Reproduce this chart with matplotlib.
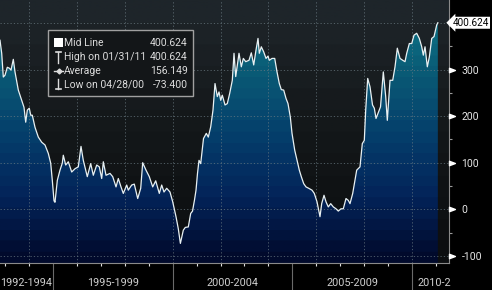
import matplotlib
matplotlib.use("Agg")
import matplotlib.pyplot as plt
import matplotlib.transforms as mtransforms
import numpy as np
from matplotlib.colors import LinearSegmentedColormap
from matplotlib.patches import Rectangle
from matplotlib.path import Path

# series: decimal year, mid value
years = [
    1992.785, 1992.856, 1992.923, 1992.994, 1993.090, 1993.174, 1993.245, 1993.341,
    1993.412, 1993.550, 1993.692, 1993.788, 1993.859, 1993.926, 1994.009, 1994.068,
    1994.135, 1994.248, 1994.386, 1994.528, 1994.666, 1994.803, 1994.904, 1994.971,
    1995.042, 1995.083, 1995.180, 1995.292, 1995.388, 1995.430, 1995.531, 1995.639,
    1995.781, 1995.919, 1996.057, 1996.170, 1996.266, 1996.433, 1996.575, 1996.684,
    1996.826, 1996.935, 1997.035, 1997.102, 1997.215, 1997.382, 1997.495, 1997.633,
    1997.729, 1997.841, 1997.937, 1998.080, 1998.146, 1998.289, 1998.397, 1998.539,
    1998.665, 1998.748, 1998.886, 1999.024, 1999.166, 1999.292, 1999.442, 1999.542,
    1999.638, 1999.751, 1999.889, 2000.002, 2000.140, 2000.236, 2000.323, 2000.445,
    2000.528, 2000.654, 2000.754, 2000.830, 2000.913, 2000.976, 2001.038, 2001.101,
    2001.172, 2001.289, 2001.406, 2001.490, 2001.590, 2001.686, 2001.770, 2001.866,
    2001.937, 2002.008, 2002.075, 2002.188, 2002.284, 2002.384, 2002.493, 2002.564,
    2002.635, 2002.702, 2002.773, 2002.869, 2002.953, 2003.053, 2003.191, 2003.287,
    2003.387, 2003.483, 2003.567, 2003.621, 2003.705, 2003.805, 2003.901, 2003.985,
    2004.039, 2004.152, 2004.265, 2004.361, 2004.457, 2004.540, 2004.641, 2004.737,
    2004.820, 2004.917, 2004.988, 2005.100, 2005.197, 2005.293, 2005.376, 2005.476,
    2005.572, 2005.685, 2005.823, 2005.919, 2006.032, 2006.157, 2006.228, 2006.325,
    2006.408, 2006.504, 2006.605, 2006.713, 2006.826, 2006.922, 2007.035, 2007.131,
    2007.244, 2007.340, 2007.411, 2007.524, 2007.620, 2007.691, 2007.829, 2007.925,
    2008.009, 2008.067, 2008.151, 2008.247, 2008.352, 2008.427, 2008.498, 2008.581,
    2008.686, 2008.803, 2008.903, 2008.970, 2009.083, 2009.196, 2009.292, 2009.388,
    2009.501, 2009.614, 2009.710, 2009.781, 2009.890, 2009.990, 2010.086, 2010.199,
    2010.308, 2010.408, 2010.475, 2010.546, 2010.642, 2010.726, 2010.826, 2010.922,
    2011.035, 2011.082,
]
values = [
    363, 335, 284, 288, 305, 303, 299, 322,
    295, 256, 234, 219, 187, 213, 217, 202,
    202, 176, 155, 144, 138, 120, 99, 62,
    18, 15, 62, 84, 99, 116, 95, 102,
    80, 87, 91, 135, 105, 70, 98, 73,
    95, 91, 66, 102, 73, 77, 70, 48,
    66, 48, 34, 52, 41, 52, 54, 23,
    45, 100, 84, 70, 48, 61, 34, 52,
    37, 45, 37, 16, -16, -42, -73.4, -45,
    -39, -38, -9, -4, 20, 41, 77, 105,
    98, 152, 163, 155, 177, 213, 270, 242,
    252, 234, 245, 224, 227, 249, 277, 335,
    285, 310, 335, 306, 324, 317, 320, 336,
    310, 342, 367, 335, 349, 338, 324, 329,
    320, 324, 324, 295, 270, 257, 256, 238,
    227, 198, 163, 127, 105, 84, 70, 55,
    48, 45, 41, 34, 16, -16, 12, 30,
    16, 5, 12, 5, 1, -4, 1, 1,
    23, 19, 12, 34, 62, 84, 91, 141,
    148, 213, 281, 263, 224, 217, 195, 206,
    220, 295, 242, 191, 277, 277, 306, 346,
    324, 320, 317, 335, 356, 356, 374, 378,
    367, 349, 331, 349, 306, 327, 367, 371,
    396, 400.624,
]

legend_labels = ["Mid Line", "High on 01/31/11", "Average", "Low on 04/28/00"]
legend_values = [400.624, 400.624, 156.149, -73.400]

period_labels = ["1992-1994", "1995-1999", "2000-2004", "2005-2009", "2010-2"]
period_pos = [1993.89, 1997.5, 2002.5, 2007.5, 2010.25]
period_breaks = [1995, 2000, 2005, 2010]
year_ticks = list(range(1993, 2012))
grid_years = list(range(1994, 2011, 2))
y_major = [-100, 0, 100, 200, 300, 400]
y_labels = ["-100", "0", "100", "200", "300", ""]
y_minor = [-50, 50, 150, 250, 350]

plt.rcParams['font.family'] = ['Roboto', 'DejaVu Sans']

W, H = 492, 290
fig = plt.figure(figsize=(W / 100, H / 100), dpi=100, facecolor='black')
ax = fig.add_axes([0, 1 - 263 / H, 449 / W, 263 / H])
x0, x1 = 1992.785, 2011.548
y0, y1 = -115.5, 449.5

# backgrounds: dark gradient behind, teal/navy gradient clipped under the curve
bg_cmap = LinearSegmentedColormap.from_list('bg', ['#0c0e10', '#131719', '#1e252a'])
fill_cmap = LinearSegmentedColormap.from_list(
    'fill', ['#010a2c', '#03245a', '#05406c', '#0a5c76', '#10788a'])
grad = np.linspace(0, 1, 256).reshape(-1, 1)
ax.imshow(grad, cmap=bg_cmap.resampled(12), extent=[x0, x1, y0, y1],
          origin='lower', aspect='auto', zorder=0)
poly = ax.fill_between(years, values, y0, color='none', lw=0, zorder=1)
im = ax.imshow(grad, cmap=fill_cmap.resampled(24), extent=[x0, x1, y0, y1],
               origin='lower', aspect='auto', zorder=1)
im.set_clip_path(poly.get_paths()[0], transform=ax.transData)

grid_kw = dict(color='#6c7c84', lw=0.6, linestyles=(0, (1.5, 2.5)), alpha=0.8, zorder=2)
ax.hlines(y_major, x0, x1, **grid_kw)
ax.vlines(grid_years, y0, y1, **grid_kw)

ax.plot(years, values, color='#e8f0f2', lw=0.9, zorder=3)

ax.set_xlim(x0, x1)
ax.set_ylim(y0, y1)

for s in ['top', 'left']:
    ax.spines[s].set_visible(False)
for s in ['right', 'bottom']:
    ax.spines[s].set_color('#8a8a8a')
    ax.spines[s].set_linewidth(0.8)

ax.yaxis.tick_right()
ax.set_yticks(y_major)
ax.set_yticklabels(y_labels)
ax.set_yticks(y_minor, minor=True)
ax.tick_params(axis='y', which='major', length=0, pad=9, labelsize=7.5, labelcolor='#e6e6e6')
ax.tick_params(axis='y', which='minor', length=2.5, width=0.8, color='#9a9a9a')

ax.set_xticks(period_breaks)
ax.set_xticklabels([])
ax.set_xticks(year_ticks, minor=True)
ax.tick_params(axis='x', which='major', length=20, width=0.8, color='#6a6a6a')
ax.tick_params(axis='x', which='minor', length=2.2, width=0.8, color='#e0e0e0')

for lab, pos in zip(period_labels, period_pos):
    ha = 'left' if lab == "2010-2" else 'center'
    ax.text(pos, -0.076, lab, transform=ax.get_xaxis_transform(), ha=ha, va='center',
            fontsize=7.8, color='#d0d0d0', clip_on=False)

# pointer ticks on the right axis
tri = Path([(0, -0.45), (1.2, 0), (0, 0.45), (0, -0.45)],
           [Path.MOVETO, Path.LINETO, Path.LINETO, Path.CLOSEPOLY])
ax.plot([1] * len(y_major), y_major, transform=ax.get_yaxis_transform(), marker=tri,
        ms=8.5, color='white', ls='none', clip_on=False, zorder=5)

# last value tag, right-aligned near the figure edge
tag_tr = mtransforms.blended_transform_factory(fig.transFigure, ax.transData)
fig.text(489 / W, values[-1], f"{values[-1]:.3f}", transform=tag_tr,
         ha='right', va='center', fontsize=7.2, color='black', zorder=6,
         bbox=dict(boxstyle='larrow,pad=0.1', fc='white', ec='none'))

# legend box in pixel coordinates
ov = fig.add_axes([0, 0, 1, 1])
ov.set_xlim(0, W)
ov.set_ylim(H, 0)
ov.axis('off')
ov.add_patch(Rectangle((48, 30), 145, 66, fc='#131618', ec='#a0a0a0', lw=1, zorder=1))
row_y = [43, 57, 71, 85]
txt_c = '#dcdcdc'
for lab, val, yy in zip(legend_labels, legend_values, row_y):
    ov.text(64, yy, lab, ha='left', va='center', fontsize=7.5, color=txt_c, zorder=2)
    ov.text(188, yy, f"{val:.3f}", ha='right', va='center', fontsize=7.5, color=txt_c, zorder=2)
ov.add_patch(Rectangle((54, 38), 8.5, 8.5, fc='white', ec='none', zorder=2))
ov.plot([58, 58], [52, 62.5], color=txt_c, lw=1, zorder=2)
ov.plot([55.5, 60.5], [52, 52], color=txt_c, lw=1.2, zorder=2)
ov.plot([54, 63], [71, 71], color=txt_c, lw=1, zorder=2)
ov.plot([58.5], [71], marker='D', ms=2.5, color=txt_c, zorder=2)
ov.plot([58, 58], [79, 89], color=txt_c, lw=1, zorder=2)
ov.plot([55.5, 60.5], [89, 89], color=txt_c, lw=1.2, zorder=2)

fig.savefig('out.png', dpi=100, facecolor='black')
